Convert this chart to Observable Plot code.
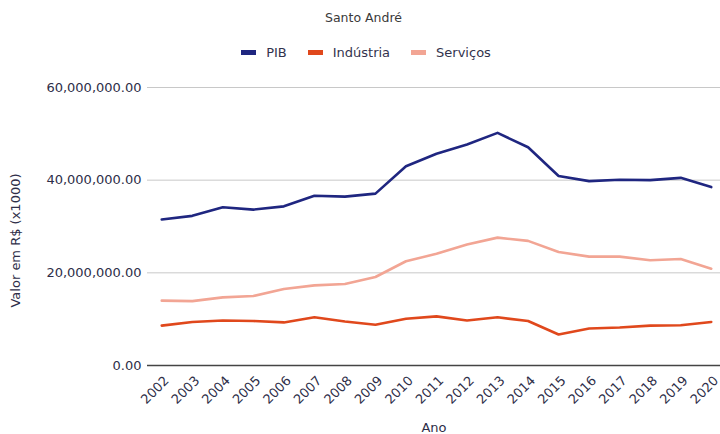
<!DOCTYPE html>
<html>
<head>
<meta charset="utf-8">
<script src="https://cdn.jsdelivr.net/npm/d3@7"></script>
<script src="https://cdn.jsdelivr.net/npm/@observablehq/plot@0.6"></script>
<style>
  html, body { margin: 0; padding: 0; background: #fff; width: 720px; height: 434px; overflow: hidden; }
  body { font-family: "DejaVu Sans", sans-serif; color: #2e2e48; }
  #header { height: 70px; position: relative; }
  #title { position: absolute; top: 10px; left: 0; width: 727px; text-align: center; font-size: 12.5px; color: #3a3a3a; }
  #legend { position: absolute; top: 45px; left: 0; width: 732px; display: flex; justify-content: center; gap: 21px; font-size: 13px; color: #33334d; }
  .item { display: flex; align-items: center; }
  .sw { width: 15px; height: 5px; margin-right: 10px; }
  svg text { font-family: "DejaVu Sans", sans-serif; }
</style>
</head>
<body>
<div id="header">
  <div id="title"></div>
  <div id="legend"></div>
</div>
<div id="chart"></div>
<script>
const title = "Santo André";
const seriesNames = ["PIB", "Indústria", "Serviços"];
const seriesColors = ["#1f2680", "#e0481c", "#f2a594"];
const years = [2002, 2003, 2004, 2005, 2006, 2007, 2008, 2009, 2010, 2011, 2012, 2013, 2014, 2015, 2016, 2017, 2018, 2019, 2020];
const pib = [31500000, 32300000, 34150000, 33650000, 34350000, 36650000, 36450000, 37100000, 43000000, 45700000, 47700000, 50200000, 47100000, 40900000, 39800000, 40100000, 40000000, 40500000, 38500000];
const industria = [8600000, 9400000, 9700000, 9600000, 9300000, 10400000, 9500000, 8800000, 10100000, 10600000, 9700000, 10400000, 9600000, 6700000, 8000000, 8200000, 8600000, 8700000, 9400000];
const servicos = [14000000, 13900000, 14700000, 15000000, 16500000, 17300000, 17600000, 19100000, 22500000, 24100000, 26100000, 27600000, 26900000, 24500000, 23500000, 23500000, 22700000, 23000000, 20900000];
const yTicks = [0, 20000000, 40000000, 60000000];
const xLabel = "Ano";
const yLabel = "Valor em R$ (x1000)";

document.getElementById("title").textContent = title;
const legend = document.getElementById("legend");
seriesNames.forEach((n, i) => {
  const it = document.createElement("div");
  it.className = "item";
  const sw = document.createElement("div");
  sw.className = "sw";
  sw.style.background = seriesColors[i];
  const t = document.createElement("span");
  t.textContent = n;
  it.appendChild(sw); it.appendChild(t);
  legend.appendChild(it);
});

const allSeries = [pib, industria, servicos];
const data = [];
seriesNames.forEach((n, i) => {
  years.forEach((y, j) => data.push({series: n, year: y, value: allSeries[i][j]}));
});

const fmt = d3.format(",.2f");
const chart = Plot.plot({
  width: 720,
  height: 364,
  marginLeft: 147,
  marginRight: 0,
  marginTop: 17,
  marginBottom: 69,
  style: {fontFamily: "'DejaVu Sans', sans-serif", fontSize: "13px", color: "#2e2e48", background: "transparent"},
  x: {type: "point", domain: years, padding: 0.5, range: [146, 726], round: false},
  y: {domain: [0, 60000000]},
  color: {domain: seriesNames, range: seriesColors},
  marks: [
    Plot.ruleY(yTicks.filter(d => d !== 0), {stroke: "#c8c8c8", strokeWidth: 1}),
    Plot.axisY({ticks: yTicks, tickFormat: fmt, tickSize: 0, tickPadding: 6, fontSize: 13, label: null}),
    Plot.axisX({tickFormat: d => String(d), tickSize: 0, tickPadding: 13, tickRotate: -45, fontSize: 13, dx: 5, label: null}),
    Plot.lineY(data, {x: "year", y: "value", z: "series", stroke: "series", strokeWidth: 2.6}),
    Plot.ruleY([0], {stroke: "#444", strokeWidth: 1.5}),
    Plot.text([xLabel], {frameAnchor: "bottom", dy: 66, fontSize: 13, fill: "#2e2e48"}),
    Plot.text([yLabel], {frameAnchor: "left", textAnchor: "middle", dx: -132, dy: 14, rotate: -90, fontSize: 13, fill: "#2e2e48"})
  ]
});
document.getElementById("chart").appendChild(chart);
</script>
</body>
</html>
